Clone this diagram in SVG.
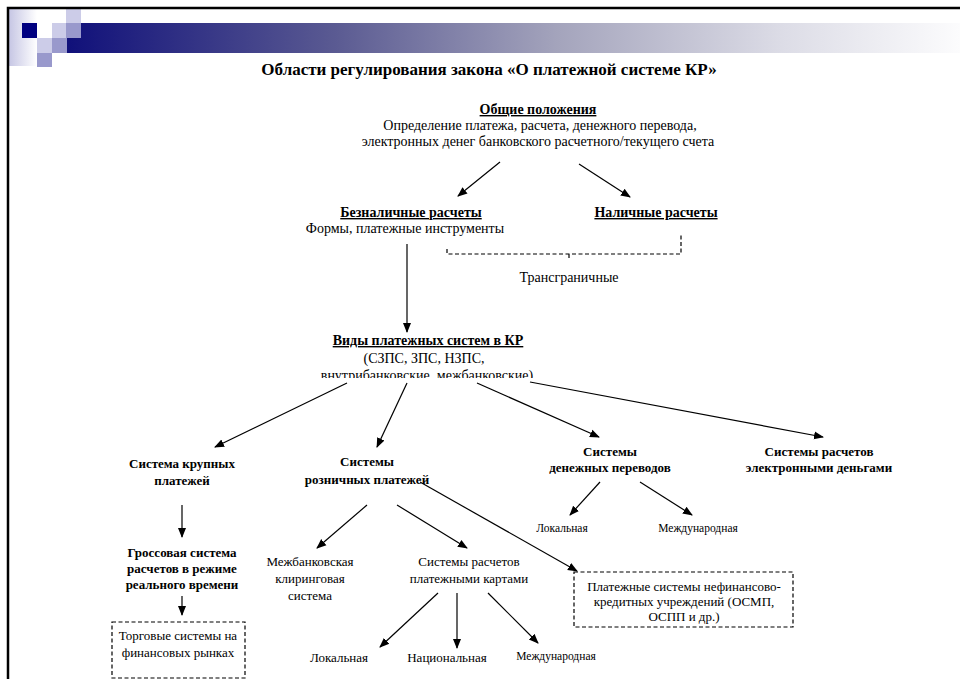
<svg xmlns="http://www.w3.org/2000/svg" width="960" height="679" viewBox="0 0 960 679" font-family="'Liberation Serif','DejaVu Serif',serif">
<style>
text{font-family:"Liberation Serif","DejaVu Serif",serif;fill:#000;text-anchor:middle}
.t{font-size:17px;font-weight:bold}
.h{font-size:14px;font-weight:bold;text-decoration:underline}
.r{font-size:14px}
.b{font-size:13px;font-weight:bold}
.n{font-size:13px}
.s{font-size:11.5px}
.c line,.c path{stroke:#000;stroke-width:1.2;fill:none}
.a{marker-end:url(#ah)}
.d{stroke:#000;stroke-width:1.2;fill:none;stroke-dasharray:4 2.5}
</style>
<defs>
<marker id="ah" markerUnits="userSpaceOnUse" markerWidth="10" markerHeight="10" viewBox="0 0 10 10" refX="9" refY="5" orient="auto">
<path d="M0,1 L10,5 L0,9 Z" fill="#000"/>
</marker>
<linearGradient id="bar" x1="0" y1="0" x2="1" y2="0">
<stop offset="0" stop-color="#10107a"/>
<stop offset="0.3" stop-color="#5a5a92"/>
<stop offset="0.55" stop-color="#a4a4bc"/>
<stop offset="0.8" stop-color="#dcdce6"/>
<stop offset="1" stop-color="#fcfcfd"/>
</linearGradient>
<linearGradient id="lg" x1="0" y1="0" x2="1" y2="0">
<stop offset="0" stop-color="#c6c6e4"/>
<stop offset="1" stop-color="#ffffff"/>
</linearGradient>
<clipPath id="clip3"><rect x="0" y="0" width="960" height="378"/></clipPath>
</defs>
<rect width="960" height="679" fill="#fff"/>
<g id="decor">
<rect x="9" y="9" width="28" height="57" fill="url(#lg)"/>
<rect x="66" y="23" width="894" height="30" fill="url(#bar)"/>
<rect x="22" y="23" width="15" height="15" fill="#000080"/>
<rect x="66" y="8" width="15" height="15" fill="#ccccE8"/>
<rect x="52" y="23" width="14" height="15" fill="#ccccE8"/>
<rect x="37" y="38" width="15" height="15" fill="#ccccE8"/>
<rect x="66" y="23" width="15" height="15" fill="#9999cc"/>
<rect x="52" y="38" width="15" height="15" fill="#9999cc"/>
<rect x="37" y="53" width="15" height="14" fill="#9999cc"/>
<path d="M8,679 V8 H960" stroke="#000" stroke-width="2.5" fill="none"/>
</g>
<text class="t" x="489" y="75">Области регулирования закона «О платежной системе КР»</text>
<g id="general">
<text class="h" x="538" y="114">Общие положения</text>
<text class="r" x="540" y="130">Определение платежа, расчета,  денежного перевода,</text>
<text class="r" x="538" y="146">электронных денег банковского расчетного/текущего счета</text>
</g>
<g id="cashless">
<text class="h" x="411" y="217">Безналичные расчеты</text>
<text class="r" x="405" y="233">Формы, платежные инструменты</text>
</g>
<g id="cash">
<text class="h" x="656" y="217">Наличные расчеты</text>
</g>
<g id="crossborder">
<text class="r" x="569" y="282">Трансграничные</text>
</g>
<g id="types">
<text class="h" x="428" y="345">Виды платежных систем в КР</text>
<text class="r" x="424" y="363">(СЗПС, ЗПС, НЗПС,</text>
<text class="r" x="427" y="380" clip-path="url(#clip3)">внутрибанковские, межбанковские)</text>
</g>
<g id="large">
<text class="b" x="182" y="468">Система крупных</text>
<text class="b" x="182" y="485">платежей</text>
</g>
<g id="retail">
<text class="b" x="367" y="466">Системы</text>
<text class="b" x="367" y="484">розничных платежей</text>
</g>
<g id="transfers">
<text class="b" x="610" y="456">Системы</text>
<text class="b" x="610" y="472">денежных переводов</text>
</g>
<g id="emoney">
<text class="b" x="819" y="456">Системы расчетов</text>
<text class="b" x="819" y="472">электронными деньгами</text>
</g>
<g id="tr-local"><text class="s" x="562" y="532">Локальная</text></g>
<g id="tr-intl"><text class="s" x="698" y="532">Международная</text></g>
<g id="rtgs">
<text class="b" x="182" y="557">Гроссовая система</text>
<text class="b" x="182" y="573">расчетов в режиме</text>
<text class="b" x="182" y="589">реального времени</text>
</g>
<g id="trading">
<rect class="d" x="112" y="622" width="133" height="56"/>
<text class="n" x="178" y="640">Торговые системы на</text>
<text class="n" x="178" y="657">финансовых рынках</text>
</g>
<g id="clearing">
<text class="n" x="310" y="566">Межбанковская</text>
<text class="n" x="310" y="583">клиринговая</text>
<text class="n" x="310" y="600">система</text>
</g>
<g id="cards">
<text class="n" x="469" y="566">Системы расчетов</text>
<text class="n" x="469" y="583">платежными картами</text>
</g>
<g id="nonfin">
<rect class="d" x="574" y="572" width="219" height="55"/>
<text class="n" x="684" y="591">Платежные системы нефинансово-</text>
<text class="n" x="684" y="606">кредитных учреждений (ОСМП,</text>
<text class="n" x="684" y="621">ОСПП и др.)</text>
</g>
<g id="card-local"><text class="n" x="339" y="662">Локальная</text></g>
<g id="card-nat"><text class="n" x="447" y="662">Национальная</text></g>
<g id="card-intl"><text class="s" x="556" y="660">Международная</text></g>
<g id="connectors" class="c">
<line class="a" x1="500" y1="162" x2="458" y2="196"/>
<line class="a" x1="579" y1="164" x2="630" y2="197"/>
<path class="d" d="M447,249 V254 H681 V233 M569,254 V260"/>
<line class="a" x1="407" y1="244" x2="407" y2="332"/>
<line class="a" x1="347" y1="383" x2="215" y2="447"/>
<line class="a" x1="407" y1="383" x2="377" y2="447"/>
<line class="a" x1="477" y1="383" x2="599" y2="437"/>
<line class="a" x1="530" y1="382" x2="823" y2="437"/>
<line class="a" x1="600" y1="482" x2="570" y2="515"/>
<line class="a" x1="640" y1="482" x2="692" y2="515"/>
<line class="a" x1="182" y1="505" x2="182" y2="537"/>
<line class="a" x1="182" y1="596" x2="182" y2="615"/>
<line class="a" x1="367" y1="505" x2="317" y2="548"/>
<line class="a" x1="397" y1="505" x2="467" y2="548"/>
<line class="a" x1="420" y1="482" x2="577" y2="571"/>
<line class="a" x1="438" y1="593" x2="380" y2="647"/>
<line class="a" x1="457" y1="593" x2="457" y2="648"/>
<line class="a" x1="488" y1="593" x2="538" y2="643"/>
</g>
</svg>
